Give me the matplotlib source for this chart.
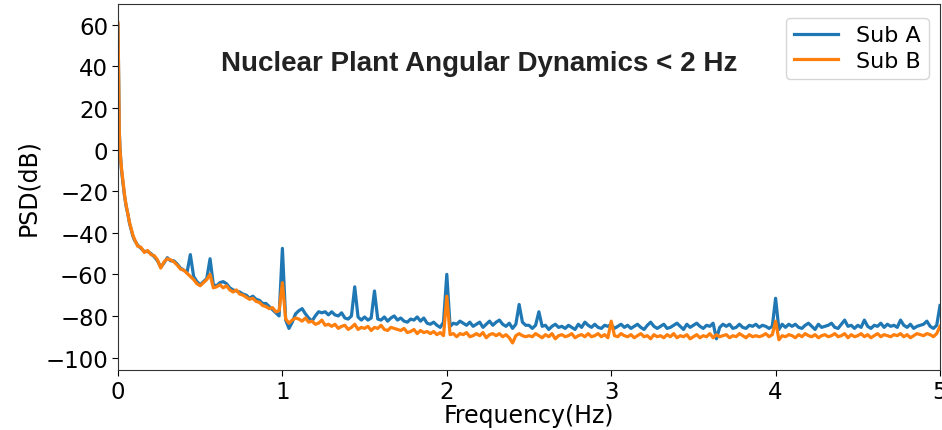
import numpy as np
import matplotlib
matplotlib.use("Agg")
import matplotlib.pyplot as plt

# ---- data ----
freq_head = [0.0, 0.004, 0.008, 0.012, 0.016, 0.02, 0.03, 0.04, 0.05, 0.06, 0.07, 0.08, 0.09]
sub_a_head = [60, 36, 9, 1, -4, -9, -16, -22.5, -27.5, -31, -35.5, -38.5, -41.5]
sub_b_head = [61, 35, 8, 0, -4, -8, -15, -22, -27, -31, -35, -38, -41]

freq_step = 0.02
freq_start = 0.10
sub_a = [
    -43.5, -46.0, -47.5, -49.0, -49.0, -50.0, -51.5, -53.5, -56.5, -54.5,
    -52.0, -53.5, -53.5, -55.0, -57.0, -58.0, -59.0, -50.5, -61.0, -63.5,
    -65.0, -63.5, -62.0, -52.5, -65.0, -65.5, -64.0, -63.5, -64.5, -66.5,
    -67.5, -68.0, -68.5, -69.5, -70.0, -71.5, -70.5, -72.0, -72.5, -74.0,
    -74.0, -75.5, -77.0, -78.5, -80.0, -47.5, -82.0, -86.0, -83.0, -79.0,
    -77.5, -76.5, -79.0, -81.0, -82.5, -80.0, -78.0, -78.5, -78.0, -79.5,
    -78.0, -79.5, -80.0, -78.5, -81.0, -81.5, -80.0, -66.0, -80.5, -82.0,
    -80.5, -82.0, -81.0, -68.0, -81.5, -82.0, -80.5, -82.5, -81.0, -80.0,
    -82.0, -81.0, -82.5, -83.0, -81.5, -82.0, -80.5, -82.5, -81.0, -83.5,
    -84.0, -83.0, -84.5, -85.5, -83.0, -60.0, -85.0, -83.5, -84.0, -82.5,
    -83.5, -84.5, -83.0, -85.0, -84.0, -83.0, -85.5, -84.0, -82.5, -84.5,
    -83.0, -82.0, -84.0, -85.0, -83.5, -86.0, -84.0, -74.5, -83.0, -84.5,
    -84.5, -86.0, -84.5, -78.0, -85.0, -84.5, -86.5, -85.0, -84.0, -85.5,
    -85.0, -86.0, -84.5, -85.5, -86.5, -84.0, -85.5, -83.0, -84.5, -85.5,
    -84.0, -85.5, -86.0, -84.5, -85.0, -84.0, -86.0, -85.0, -84.0, -85.5,
    -84.5, -86.0, -85.0, -84.0, -85.5, -86.5, -84.5, -83.0, -85.0, -86.0,
    -85.0, -84.0, -86.0, -85.5, -84.5, -83.5, -85.0, -86.5, -84.0, -85.5,
    -84.5, -83.5, -85.0, -86.0, -84.5, -85.0, -83.5, -91.0, -85.5, -84.0,
    -85.0, -84.0, -86.0, -85.5, -84.0, -85.5, -86.0, -84.5, -85.0, -84.0,
    -85.5, -84.5, -85.0, -86.0, -85.0, -71.5, -86.5, -84.0, -85.5, -84.0,
    -85.0, -84.0, -85.5, -86.0, -84.5, -83.5, -85.0, -86.5, -84.0, -85.5,
    -85.0, -84.5, -83.5, -85.5, -86.0, -84.0, -82.0, -85.0, -84.5, -86.0,
    -84.5, -85.5, -82.0, -85.0, -86.0, -84.5, -85.0, -83.5, -85.5, -84.0,
    -85.0, -84.5, -85.5, -82.0, -84.5, -85.5, -84.0, -86.0, -85.0, -84.5,
    -84.0, -82.5, -85.0, -86.0, -84.5, -75.0,
]
sub_b = [
    -43.0, -46.5, -47.0, -49.5, -48.5, -50.5, -51.0, -53.0, -57.0, -54.0,
    -52.5, -53.0, -54.0, -55.5, -57.5, -58.0, -59.5, -61.0, -62.5, -64.5,
    -65.5, -64.0, -62.5, -60.0, -66.5, -66.0, -65.0, -66.5, -65.5, -67.5,
    -68.5, -67.5, -69.5, -70.0, -71.0, -72.0, -71.5, -73.0, -73.5, -75.0,
    -75.5, -76.5, -76.0, -78.0, -77.5, -64.0, -81.5, -83.5, -82.0, -81.0,
    -81.5, -82.5, -81.0, -83.0, -82.5, -84.0, -83.5, -82.0, -84.5, -84.0,
    -85.0, -84.0, -86.0, -85.0, -84.5, -86.5, -85.5, -84.0, -86.5, -85.5,
    -86.0, -85.0, -87.0, -85.5, -86.0, -84.5, -86.5, -87.0, -85.5, -86.0,
    -86.5, -87.0, -86.0, -88.0, -87.5, -86.5, -88.5, -87.0, -88.0, -87.5,
    -88.5, -87.5, -89.0, -88.0, -89.5, -70.5, -89.0, -88.5, -90.0, -88.5,
    -89.0, -88.0, -90.0, -89.5, -88.5, -89.5, -88.0, -90.5, -89.0, -88.5,
    -89.5, -88.5, -90.0, -89.0, -90.5, -93.0, -89.5, -88.5, -89.5, -90.0,
    -89.5, -90.0, -88.5, -89.5, -90.5, -89.0, -90.0, -88.5, -91.0, -89.5,
    -89.0, -90.0, -89.5, -88.5, -90.5, -89.5, -89.0, -90.0, -88.5, -90.0,
    -89.5, -88.5, -90.0, -89.0, -90.5, -82.5, -89.5, -90.0, -88.5, -89.5,
    -90.0, -89.0, -90.5, -89.5, -88.5, -90.0, -89.5, -91.0, -89.0, -90.0,
    -89.5, -90.5, -89.0, -90.0, -88.5, -90.5, -89.5, -90.0, -89.0, -91.0,
    -90.0, -89.0, -90.5, -89.5, -90.0, -88.5, -90.5, -89.0, -90.0, -89.5,
    -89.0, -90.5, -89.5, -90.0, -88.5, -89.5, -90.5, -89.0, -90.0, -89.5,
    -90.0, -89.5, -88.5, -90.0, -89.0, -82.5, -91.5, -89.5, -90.0, -89.0,
    -89.5, -90.5, -89.0, -90.0, -88.5, -89.5, -90.0, -89.0, -90.5, -89.5,
    -89.0, -90.0, -89.5, -88.5, -90.0, -89.5, -88.5, -90.5, -89.0, -90.0,
    -89.5, -88.5, -90.0, -89.0, -90.5, -89.5, -88.5, -90.0, -89.0, -89.5,
    -90.0, -89.0, -89.5, -88.5, -90.0, -89.0, -90.5, -89.5, -88.5, -89.0,
    -89.5, -88.5, -89.0, -90.0, -88.5, -85.0,
]

x_ticks = [0, 1, 2, 3, 4, 5]
y_ticks = [-100, -80, -60, -40, -20, 0, 20, 40, 60]
title_text = "Nuclear Plant Angular Dynamics < 2 Hz"
series_labels = ["Sub A", "Sub B"]

# ---- assemble ----
freq_grid = freq_start + freq_step * np.arange(len(sub_a))
freq = np.concatenate([freq_head, freq_grid])
a = np.concatenate([sub_a_head, sub_a])
b = np.concatenate([sub_b_head, sub_b])

fig = plt.figure(figsize=(9.42, 4.31), dpi=100)
ax = fig.add_axes([118 / 942, 1 - 371 / 431, (940 - 118) / 942, (371 - 5) / 431])

ax.plot(freq, a, color="#1f77b4", lw=2.3, label=series_labels[0])
ax.plot(freq, b, color="#ff7f0e", lw=2.3, label=series_labels[1])

ax.set_xlim(0, 5)
ax.set_ylim(-106, 70)
ax.set_xticks(x_ticks)
ax.set_yticks(y_ticks)
ax.tick_params(labelsize=16.5, length=4, pad=3)
ax.set_xlabel("Frequency(Hz)", fontsize=17, labelpad=0)
ax.set_ylabel("PSD(dB)", fontsize=17, labelpad=4)
for s in ax.spines.values():
    s.set_color("#333333")

ax.text(0.44, 0.84, title_text, transform=ax.transAxes, ha="center", va="center",
        fontsize=20, fontweight="bold", family="Liberation Sans", color="#222222")

leg = ax.legend(loc="upper right", fontsize=16, frameon=True, labelspacing=0.25,
                bbox_to_anchor=(0.9915, 0.975), borderaxespad=0.2, borderpad=0.35)

fig.savefig("out.png", dpi=100)
